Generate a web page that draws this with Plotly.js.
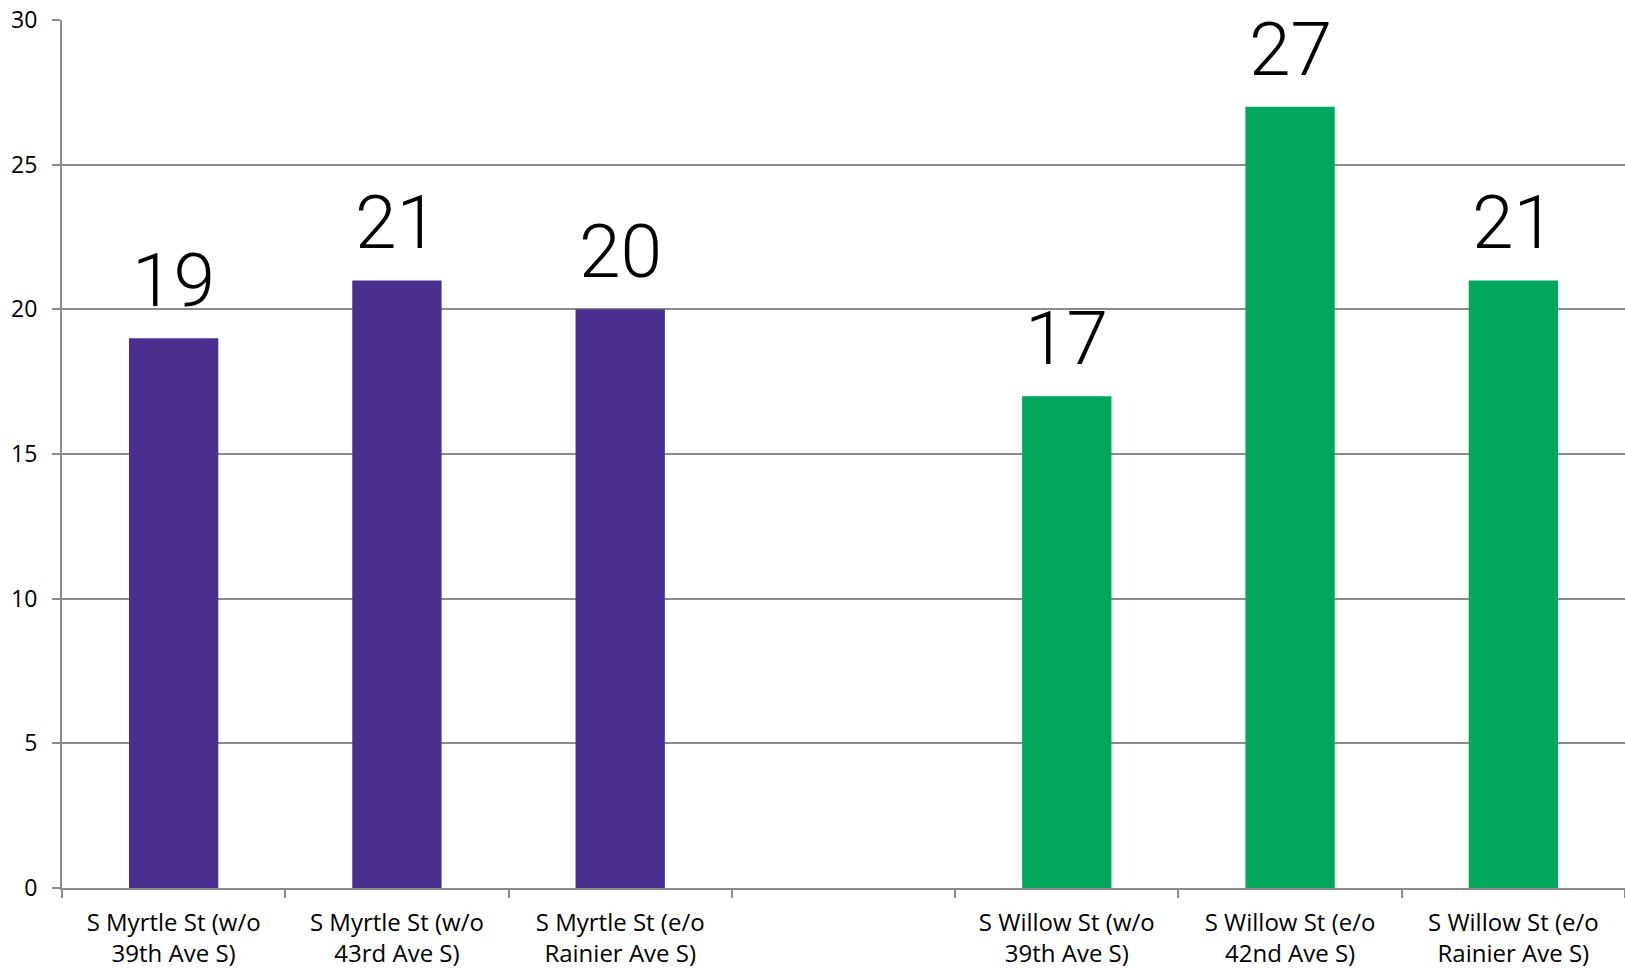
<!DOCTYPE html>
<html>
<head>
<meta charset="utf-8">
<script src="https://cdn.plot.ly/plotly-3.0.1.min.js"></script>
<style>html,body{margin:0;padding:0;background:#fff;}#chart{width:1625px;height:968px;}</style>
</head>
<body>
<div id="chart"></div>
<script>
const categories = [
  "S Myrtle St (w/o<br>39th Ave S)",
  "S Myrtle St (w/o<br>43rd Ave S)",
  "S Myrtle St (e/o<br>Rainier Ave S)",
  " ",
  "S Willow St (w/o<br>39th Ave S)",
  "S Willow St (e/o<br>42nd Ave S)",
  "S Willow St (e/o<br>Rainier Ave S)"
];
const myrtleCats = categories.slice(0, 3);
const myrtleValues = [19, 21, 20];
const willowCats = categories.slice(4, 7);
const willowValues = [17, 27, 21];

const labelFont = {family: "Roboto, Open Sans, sans-serif", size: 75, color: "#000", weight: 300};

const traces = [
  {type: "bar", x: myrtleCats, y: myrtleValues, marker: {color: "#4A2F8F"}, hoverinfo: "skip"},
  {type: "bar", x: willowCats, y: willowValues, marker: {color: "#00A75D"}, hoverinfo: "skip"}
];

const annotations = myrtleCats.map((c, i) => ({x: c, y: myrtleValues[i], text: String(myrtleValues[i])}))
  .concat(willowCats.map((c, i) => ({x: c, y: willowValues[i], text: String(willowValues[i])})))
  .map(a => Object.assign(a, {xref: "x", yref: "y", showarrow: false, xanchor: "center", yanchor: "bottom",
    yshift: 12, font: labelFont}));

const layout = {
  width: 1625, height: 968,
  margin: {l: 62, r: 0, t: 20, b: 80},
  paper_bgcolor: "#fff", plot_bgcolor: "#fff",
  showlegend: false,
  barmode: "overlay",
  bargap: 0.6,
  font: {family: "Open Sans, Noto Sans, sans-serif", color: "#000"},
  annotations: annotations,
  xaxis: {
    type: "category", categoryorder: "array", categoryarray: categories,
    tickson: "boundaries", ticks: "outside", ticklen: 8, tickwidth: 2, tickcolor: "#8c8c8c",
    showline: true, linecolor: "#8c8c8c", linewidth: 2,
    showgrid: false, automargin: false, ticklabelstandoff: 12,
    tickfont: {size: 24, color: "#000"}
  },
  yaxis: {
    range: [0, 30], dtick: 5, tick0: 0,
    ticks: "outside", ticklen: 8, tickwidth: 2, tickcolor: "#8c8c8c",
    showline: true, linecolor: "#8c8c8c", linewidth: 2,
    showgrid: true, gridcolor: "#8c8c8c", gridwidth: 2,
    zeroline: false, automargin: false, ticklabelstandoff: 10,
    tickfont: {size: 23, color: "#000"}
  }
};

Plotly.newPlot("chart", [traces[0], traces[1]], layout, {displayModeBar: false, staticPlot: true});
</script>
</body>
</html>
